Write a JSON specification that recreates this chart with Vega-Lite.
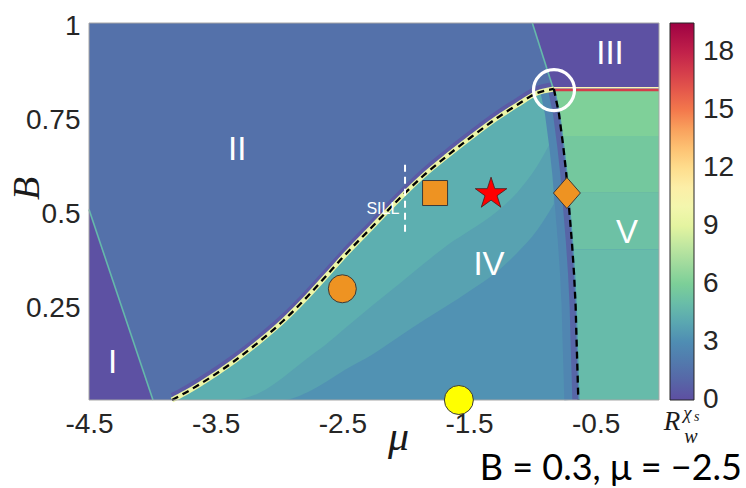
{
  "$schema": "https://vega.github.io/schema/vega-lite/v6.json",
  "width": 570,
  "height": 377,
  "autosize": "none",
  "padding": {"left": 89, "top": 23, "right": 87, "bottom": 88},
  "background": "white",
  "config": {
    "view": {"stroke": null},
    "axis": {"grid": false, "ticks": false, "domain": false, "labelFont": "Liberation Sans", "labelFontSize": 28, "labelColor": "#262626", "labelOverlap": false}
  },
  "datasets": {
    "sill": [
      {"mu": -3.845, "b": 0}, {"mu": -3.742, "b": 0.0186}, {"mu": -3.623, "b": 0.0424}, {"mu": -3.363, "b": 0.1008},
      {"mu": -3.15, "b": 0.1565}, {"mu": -2.968, "b": 0.2095}, {"mu": -2.779, "b": 0.2732}, {"mu": -2.621, "b": 0.3316},
      {"mu": -2.479, "b": 0.3846}, {"mu": -2.266, "b": 0.4589}, {"mu": -2.045, "b": 0.5358}, {"mu": -1.863, "b": 0.5942},
      {"mu": -1.674, "b": 0.6472}, {"mu": -1.492, "b": 0.695}, {"mu": -1.279, "b": 0.748}, {"mu": -1.121, "b": 0.7825},
      {"mu": -0.963, "b": 0.8143}, {"mu": -0.83, "b": 0.825}
    ],
    "region2": [
      {"mu": -4.5, "b": 0},
      {"mu": -3.845, "b": 0}, {"mu": -3.742, "b": 0.0186}, {"mu": -3.623, "b": 0.0424}, {"mu": -3.363, "b": 0.1008},
      {"mu": -3.15, "b": 0.1565}, {"mu": -2.968, "b": 0.2095}, {"mu": -2.779, "b": 0.2732}, {"mu": -2.621, "b": 0.3316},
      {"mu": -2.479, "b": 0.3846}, {"mu": -2.266, "b": 0.4589}, {"mu": -2.045, "b": 0.5358}, {"mu": -1.863, "b": 0.5942},
      {"mu": -1.674, "b": 0.6472}, {"mu": -1.492, "b": 0.695}, {"mu": -1.279, "b": 0.748}, {"mu": -1.121, "b": 0.7825},
      {"mu": -0.963, "b": 0.8143}, {"mu": -0.83, "b": 0.825}
    ],
    "bands": [
      {"mu": -3.845, "s": 0, "l1": 0, "l2": 0}, {"mu": -3.742, "s": 0.0186, "l1": 0, "l2": 0},
      {"mu": -3.623, "s": 0.0424, "l1": 0, "l2": 0}, {"mu": -3.363, "s": 0.1008, "l1": 0, "l2": 0},
      {"mu": -3.15, "s": 0.1565, "l1": 0.02, "l2": 0}, {"mu": -2.968, "s": 0.2095, "l1": 0.06, "l2": 0},
      {"mu": -2.779, "s": 0.2732, "l1": 0.11, "l2": 0.02}, {"mu": -2.621, "s": 0.3316, "l1": 0.15, "l2": 0.05},
      {"mu": -2.479, "s": 0.3846, "l1": 0.19, "l2": 0.08}, {"mu": -2.266, "s": 0.4589, "l1": 0.25, "l2": 0.12},
      {"mu": -2.045, "s": 0.5358, "l1": 0.31, "l2": 0.17}, {"mu": -1.863, "s": 0.5942, "l1": 0.36, "l2": 0.21},
      {"mu": -1.674, "s": 0.6472, "l1": 0.41, "l2": 0.25}, {"mu": -1.492, "s": 0.695, "l1": 0.45, "l2": 0.29},
      {"mu": -1.279, "s": 0.748, "l1": 0.5, "l2": 0.34}, {"mu": -1.121, "s": 0.7825, "l1": 0.55, "l2": 0.39},
      {"mu": -0.963, "s": 0.8143, "l1": 0.62, "l2": 0.45}, {"mu": -0.83, "s": 0.825, "l1": 0.7, "l2": 0.52}
    ],
    "vcurve": [
      {"mu": -0.83, "b": 0.825}, {"mu": -0.79, "b": 0.76}, {"mu": -0.755, "b": 0.67}, {"mu": -0.732, "b": 0.6},
      {"mu": -0.71, "b": 0.51}, {"mu": -0.688, "b": 0.42}, {"mu": -0.671, "b": 0.336}, {"mu": -0.658, "b": 0.247},
      {"mu": -0.651, "b": 0.159}, {"mu": -0.643, "b": 0.071}, {"mu": -0.637, "b": 0}
    ],
    "vregion": [
      {"band": "A", "mu": -0.818, "b": 0.8225, "v": 6.1}, {"band": "A", "mu": -0.78, "b": 0.76, "v": 6.1}, {"band": "A", "mu": -0.757, "b": 0.7, "v": 6.1},
      {"band": "B", "mu": -0.757, "b": 0.7, "v": 5.6}, {"band": "B", "mu": -0.745, "b": 0.67, "v": 5.6}, {"band": "B", "mu": -0.722, "b": 0.6, "v": 5.6}, {"band": "B", "mu": -0.71, "b": 0.55, "v": 5.6},
      {"band": "C", "mu": -0.71, "b": 0.55, "v": 5.2}, {"band": "C", "mu": -0.7, "b": 0.51, "v": 5.2}, {"band": "C", "mu": -0.678, "b": 0.42, "v": 5.2}, {"band": "C", "mu": -0.674, "b": 0.4, "v": 5.2},
      {"band": "D", "mu": -0.674, "b": 0.4, "v": 4.9}, {"band": "D", "mu": -0.661, "b": 0.336, "v": 4.9}, {"band": "D", "mu": -0.648, "b": 0.247, "v": 4.9},
      {"band": "D", "mu": -0.641, "b": 0.159, "v": 4.9}, {"band": "D", "mu": -0.633, "b": 0.071, "v": 4.9}, {"band": "D", "mu": -0.627, "b": 0, "v": 4.9}
    ],
    "region1": [{"mu": -4.5, "b": 0.505}, {"mu": -3.995, "b": 0}],
    "region3": [{"mu": -1.0, "b": 1.0}, {"mu": -0.835, "b": 0.826}, {"mu": 0, "b": 0.826}],
    "line3": [{"mu": -1.0, "b": 1.0}, {"mu": -0.835, "b": 0.826}],
    "numerals": [
      {"mu": -4.314, "b": 0.097, "label": "I"}, {"mu": -3.33, "b": 0.663, "label": "II"},
      {"mu": -0.387, "b": 0.919, "label": "III"}, {"mu": -1.342, "b": 0.358, "label": "IV"},
      {"mu": -0.253, "b": 0.443, "label": "V"}
    ]
  },
  "layer": [
    {
      "data": {"values": [{"x0": -4.5, "x1": 0, "y0": 0, "y1": 1, "v": 3.2}]},
      "mark": "rect",
      "encoding": {
        "x": {"field": "x0", "type": "quantitative", "scale": {"domain": [-4.5, 0], "nice": false, "zero": false}, "title": "μ",
          "axis": {"values": [-4.5, -3.5, -2.5, -1.5, -0.5], "labelExpr": "'' + datum.value", "labelFlush": false, "labelPadding": 10,
            "titleFont": "Liberation Serif", "titleFontStyle": "italic", "titleFontWeight": "normal", "titleFontSize": 42, "titleColor": "#1a1a1a",
            "titleX": 309, "titleY": 49, "titleBaseline": "alphabetic"}},
        "x2": {"field": "x1"},
        "y": {"field": "y0", "type": "quantitative", "scale": {"domain": [0, 1], "nice": false}, "title": "B",
          "axis": {"values": [0.25, 0.5, 0.75, 1], "labelExpr": "'' + datum.value", "labelPadding": 9, "labelBaseline": "middle", "labelOffset": 3,
            "titleFont": "Liberation Serif", "titleFontStyle": "italic", "titleFontWeight": "normal", "titleFontSize": 38, "titleColor": "#1a1a1a",
            "titleX": -51, "titleY": 165, "titleAngle": -90, "titleBaseline": "alphabetic"}},
        "y2": {"field": "y1"},
        "color": {"field": "v", "type": "quantitative",
          "scale": {"domain": [0, 1.5, 3, 4.5, 6, 7.5, 9, 10.5, 12, 13.5, 15, 16.5, 18, 19.5],
            "range": ["#5e4fa2", "#5471aa", "#4f8db3", "#5fb4b0", "#7ccf98", "#b0e0a0", "#e4f4a0", "#fbf7b4", "#fedd8d", "#fcb566", "#f3784c", "#de4a4b", "#c1214a", "#9e0142"],
            "interpolate": "rgb"},
          "legend": {"type": "gradient", "orient": "none", "legendX": 581, "legendY": 0, "direction": "vertical", "gradientLength": 377, "gradientThickness": 24,
            "values": [0, 3, 6, 9, 12, 15, 18], "title": null, "labelFont": "Liberation Sans", "labelFontSize": 28, "labelColor": "#262626",
            "labelOffset": 9, "labelOverlap": false, "labelBaseline": "middle", "gradientStrokeColor": "#262626", "gradientStrokeWidth": 1, "padding": 0,
            "encode": {"labels": {"update": {"baseline": {"value": "middle"}}}}}}
      }
    },
    {
      "data": {"name": "bands"},
      "mark": {"type": "area", "interpolate": "monotone"},
      "encoding": {"x": {"field": "mu", "type": "quantitative"}, "y": {"field": "l2", "type": "quantitative"}, "y2": {"field": "s"},
        "color": {"datum": 3.8, "type": "quantitative"}}
    },
    {
      "data": {"name": "bands"},
      "mark": {"type": "area", "interpolate": "monotone"},
      "encoding": {"x": {"field": "mu", "type": "quantitative"}, "y": {"field": "l1", "type": "quantitative"}, "y2": {"field": "s"},
        "color": {"datum": 4.3, "type": "quantitative"}}
    },
    {
      "data": {"name": "vcurve"},
      "mark": {"type": "line", "strokeWidth": 10, "xOffset": -9, "color": "#5086b1"},
      "encoding": {"x": {"field": "mu", "type": "quantitative"}, "y": {"field": "b", "type": "quantitative"}}
    },
    {
      "data": {"name": "vcurve"},
      "mark": {"type": "line", "strokeWidth": 6, "xOffset": -3, "color": "#5766a7"},
      "encoding": {"x": {"field": "mu", "type": "quantitative"}, "y": {"field": "b", "type": "quantitative"}}
    },
    {
      "data": {"name": "vregion"},
      "mark": {"type": "area", "orient": "horizontal"},
      "encoding": {"y": {"field": "b", "type": "quantitative"}, "x": {"field": "mu", "type": "quantitative"}, "x2": {"datum": 0},
        "detail": {"field": "band"}, "color": {"field": "v", "type": "quantitative"}}
    },
    {
      "data": {"name": "region2"},
      "mark": {"type": "area", "interpolate": "monotone"},
      "encoding": {"x": {"field": "mu", "type": "quantitative"}, "y": {"field": "b", "type": "quantitative"}, "y2": {"datum": 1},
        "color": {"datum": 1.5, "type": "quantitative"}}
    },
    {
      "data": {"name": "sill"},
      "mark": {"type": "line", "strokeWidth": 6, "yOffset": -4, "interpolate": "monotone", "color": "#5b5aa5"},
      "encoding": {"x": {"field": "mu", "type": "quantitative"}, "y": {"field": "b", "type": "quantitative"}}
    },
    {
      "data": {"name": "region3"},
      "mark": {"type": "area"},
      "encoding": {"x": {"field": "mu", "type": "quantitative"}, "y": {"field": "b", "type": "quantitative"}, "y2": {"datum": 1},
        "color": {"datum": 0.1, "type": "quantitative"}}
    },
    {
      "data": {"name": "region1"},
      "mark": {"type": "area"},
      "encoding": {"x": {"field": "mu", "type": "quantitative"}, "y": {"field": "b", "type": "quantitative"}, "y2": {"datum": 0},
        "color": {"datum": 0.1, "type": "quantitative"}}
    },
    {
      "data": {"name": "region1"},
      "mark": {"type": "line", "strokeWidth": 1.6, "color": "#65b9ab"},
      "encoding": {"x": {"field": "mu", "type": "quantitative"}, "y": {"field": "b", "type": "quantitative"}}
    },
    {
      "data": {"name": "line3"},
      "mark": {"type": "line", "strokeWidth": 1.6, "color": "#65b9ab"},
      "encoding": {"x": {"field": "mu", "type": "quantitative"}, "y": {"field": "b", "type": "quantitative"}}
    },
    {
      "data": {"values": [{"x0": -0.83, "x1": 0, "b": 0.828}]},
      "mark": {"type": "rule", "strokeWidth": 1.5, "color": "#fbf7b4"},
      "encoding": {"x": {"field": "x0", "type": "quantitative"}, "x2": {"field": "x1"}, "y": {"field": "b", "type": "quantitative"}}
    },
    {
      "data": {"values": [{"x0": -0.83, "x1": 0, "b": 0.8225}]},
      "mark": {"type": "rule", "strokeWidth": 2.5, "color": "#d43c4b"},
      "encoding": {"x": {"field": "x0", "type": "quantitative"}, "x2": {"field": "x1"}, "y": {"field": "b", "type": "quantitative"}}
    },
    {
      "data": {"name": "sill"},
      "mark": {"type": "line", "strokeWidth": 5, "interpolate": "monotone", "color": "#ecf5a7"},
      "encoding": {"x": {"field": "mu", "type": "quantitative"}, "y": {"field": "b", "type": "quantitative"}}
    },
    {
      "data": {"name": "sill"},
      "mark": {"type": "line", "strokeWidth": 2.3, "color": "black", "strokeDash": [7, 5], "interpolate": "monotone"},
      "encoding": {"x": {"field": "mu", "type": "quantitative"}, "y": {"field": "b", "type": "quantitative"}}
    },
    {
      "data": {"name": "vcurve"},
      "mark": {"type": "line", "strokeWidth": 2.3, "color": "black", "strokeDash": [7, 5]},
      "encoding": {"x": {"field": "mu", "type": "quantitative"}, "y": {"field": "b", "type": "quantitative"}}
    },
    {
      "data": {"values": [{"x0": -4.5, "x1": 0, "y0": 0, "y1": 1}]},
      "mark": {"type": "rect", "fillOpacity": 0, "stroke": "#a6a6a6", "strokeWidth": 1},
      "encoding": {"x": {"field": "x0", "type": "quantitative"}, "x2": {"field": "x1"}, "y": {"field": "y0", "type": "quantitative"}, "y2": {"field": "y1"}}
    },
    {
      "data": {"values": [{"mu": -2.005, "b0": 0.446, "b1": 0.637}]},
      "mark": {"type": "rule", "strokeWidth": 2, "color": "white", "strokeDash": [7, 5]},
      "encoding": {"x": {"field": "mu", "type": "quantitative"}, "y": {"field": "b0", "type": "quantitative"}, "y2": {"field": "b1"}}
    },
    {
      "data": {"values": [{"mu": -2.18, "b": 0.507, "label": "SILL"}]},
      "mark": {"type": "text", "color": "white", "font": "Liberation Sans", "fontSize": 16, "align": "center", "baseline": "middle"},
      "encoding": {"x": {"field": "mu", "type": "quantitative"}, "y": {"field": "b", "type": "quantitative"}, "text": {"field": "label"}}
    },
    {
      "data": {"name": "numerals"},
      "mark": {"type": "text", "color": "white", "font": "Liberation Sans", "fontSize": 33, "align": "center", "baseline": "middle"},
      "encoding": {"x": {"field": "mu", "type": "quantitative"}, "y": {"field": "b", "type": "quantitative"}, "text": {"field": "label"}}
    },
    {
      "data": {"values": [{"mu": -1.768, "b": 0.549}]},
      "mark": {"type": "point", "shape": "square", "filled": true, "fill": "#ee9322", "stroke": "#3a3a3a", "strokeWidth": 1, "size": 625, "opacity": 1},
      "encoding": {"x": {"field": "mu", "type": "quantitative"}, "y": {"field": "b", "type": "quantitative"}}
    },
    {
      "data": {"values": [{"mu": -1.326, "b": 0.547}]},
      "mark": {"type": "point", "shape": "M0,-1L0.2245,-0.309L0.951,-0.309L0.363,0.118L0.588,0.809L0,0.382L-0.588,0.809L-0.363,0.118L-0.951,-0.309L-0.2245,-0.309Z",
        "filled": true, "fill": "#ff0000", "stroke": "#4a1a1a", "strokeWidth": 0.8, "size": 1102, "opacity": 1},
      "encoding": {"x": {"field": "mu", "type": "quantitative"}, "y": {"field": "b", "type": "quantitative"}}
    },
    {
      "data": {"values": [{"mu": -0.727, "b": 0.549}]},
      "mark": {"type": "point", "shape": "M0,-1L0.87,0L0,1L-0.87,0Z", "filled": true, "fill": "#ee9322", "stroke": "#3a3a3a", "strokeWidth": 1, "size": 961, "opacity": 1},
      "encoding": {"x": {"field": "mu", "type": "quantitative"}, "y": {"field": "b", "type": "quantitative"}}
    },
    {
      "data": {"values": [{"mu": -2.5, "b": 0.295}]},
      "mark": {"type": "point", "shape": "circle", "filled": true, "fill": "#ee9322", "stroke": "#3a3a3a", "strokeWidth": 1, "size": 784, "opacity": 1},
      "encoding": {"x": {"field": "mu", "type": "quantitative"}, "y": {"field": "b", "type": "quantitative"}}
    },
    {
      "data": {"values": [{"mu": -1.58, "b": 0.0}]},
      "mark": {"type": "point", "shape": "circle", "filled": true, "fill": "#ffff00", "stroke": "#3a3a3a", "strokeWidth": 1, "size": 841, "opacity": 1},
      "encoding": {"x": {"field": "mu", "type": "quantitative"}, "y": {"field": "b", "type": "quantitative"}}
    },
    {
      "data": {"values": [{"mu": -0.829, "b": 0.822}]},
      "mark": {"type": "point", "shape": "circle", "filled": false, "stroke": "white", "strokeWidth": 3.2, "size": 1681, "opacity": 1},
      "encoding": {"x": {"field": "mu", "type": "quantitative"}, "y": {"field": "b", "type": "quantitative"}}
    },
    {
      "data": {"values": [{"mu": 0.1026, "b": -0.0796, "label": "R"}]},
      "mark": {"type": "text", "color": "#1a1a1a", "font": "Liberation Serif", "fontStyle": "italic", "fontSize": 27, "align": "center", "baseline": "alphabetic"},
      "encoding": {"x": {"field": "mu", "type": "quantitative"}, "y": {"field": "b", "type": "quantitative"}, "text": {"field": "label"}}
    },
    {
      "data": {"values": [{"mu": 0.225, "b": -0.05, "label": "χ"}]},
      "mark": {"type": "text", "color": "#1a1a1a", "font": "Liberation Serif", "fontStyle": "italic", "fontSize": 19, "align": "center", "baseline": "alphabetic"},
      "encoding": {"x": {"field": "mu", "type": "quantitative"}, "y": {"field": "b", "type": "quantitative"}, "text": {"field": "label"}}
    },
    {
      "data": {"values": [{"mu": 0.298, "b": -0.056, "label": "s"}]},
      "mark": {"type": "text", "color": "#1a1a1a", "font": "Liberation Serif", "fontStyle": "italic", "fontSize": 14, "align": "center", "baseline": "alphabetic"},
      "encoding": {"x": {"field": "mu", "type": "quantitative"}, "y": {"field": "b", "type": "quantitative"}, "text": {"field": "label"}}
    },
    {
      "data": {"values": [{"mu": 0.252, "b": -0.114, "label": "w"}]},
      "mark": {"type": "text", "color": "#1a1a1a", "font": "Liberation Serif", "fontStyle": "italic", "fontSize": 20, "align": "center", "baseline": "alphabetic"},
      "encoding": {"x": {"field": "mu", "type": "quantitative"}, "y": {"field": "b", "type": "quantitative"}, "text": {"field": "label"}}
    },
    {
      "data": {"values": [{"mu": 0.655, "b": -0.2122, "label": "B = 0.3, μ = −2.5"}]},
      "mark": {"type": "text", "color": "black", "font": "Lato", "fontSize": 36, "align": "right", "baseline": "alphabetic"},
      "encoding": {"x": {"field": "mu", "type": "quantitative"}, "y": {"field": "b", "type": "quantitative"}, "text": {"field": "label"}}
    }
  ]
}
